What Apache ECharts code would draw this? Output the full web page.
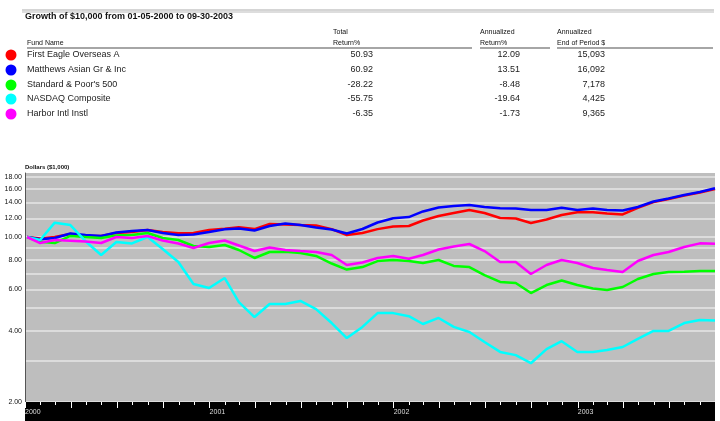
<!DOCTYPE html>
<html><head><meta charset="utf-8">
<script src="https://cdn.jsdelivr.net/npm/echarts@6/dist/echarts.min.js"></script>
<style>html,body{margin:0;padding:0;background:#fff}#c{width:720px;height:421px}</style>
</head><body><div id="c"></div>
<script>
// ---- data ----
const dates = ['2000-01-05',
  '2000-01-31','2000-02-29','2000-03-31','2000-04-30','2000-05-31','2000-06-30','2000-07-31','2000-08-31','2000-09-30','2000-10-31','2000-11-30','2000-12-31',
  '2001-01-31','2001-02-28','2001-03-31','2001-04-30','2001-05-31','2001-06-30','2001-07-31','2001-08-31','2001-09-30','2001-10-31','2001-11-30','2001-12-31',
  '2002-01-31','2002-02-28','2002-03-31','2002-04-30','2002-05-31','2002-06-30','2002-07-31','2002-08-31','2002-09-30','2002-10-31','2002-11-30','2002-12-31',
  '2003-01-31','2003-02-28','2003-03-31','2003-04-30','2003-05-31','2003-06-30','2003-07-31','2003-08-31','2003-09-30'];
const firstEagle = [10, 9.85,10.0,10.3,10.1,10.1,10.4,10.5,10.7,10.5,10.37,10.4,10.7,
  10.85,11.0,10.8,11.35,11.3,11.24,11.19,10.8,10.2,10.4,10.8,11.08,
  11.13,11.75,12.27,12.64,13.02,12.64,12.03,11.98,11.46,11.86,12.39,12.73,
  12.73,12.58,12.46,13.3,14.05,14.5,15.0,15.45,15.98];
const matthews = [10, 9.78,9.9,10.35,10.2,10.1,10.45,10.6,10.7,10.4,10.2,10.25,10.5,
  10.78,10.86,10.65,11.13,11.4,11.24,10.97,10.76,10.35,10.81,11.52,12.0,
  12.15,12.83,13.34,13.53,13.66,13.4,13.23,13.2,13.01,13.01,13.31,13.01,
  13.2,13.01,12.95,13.4,14.14,14.57,15.06,15.5,16.09];
const sp500 = [10, 9.55,9.43,10.1,10.0,9.9,10.15,10.2,10.4,9.9,9.71,9.16,9.07,
  9.25,8.81,8.15,8.64,8.66,8.55,8.31,7.72,7.28,7.46,7.91,7.99,
  7.91,7.76,7.99,7.54,7.46,6.9,6.45,6.38,5.79,6.26,6.54,6.26,
  6.05,5.96,6.14,6.64,6.97,7.11,7.13,7.18,7.18];
const nasdaq = [10, 9.71,11.5,11.24,9.6,8.39,9.52,9.39,10.0,8.89,7.83,6.32,6.08,
  6.70,5.30,4.58,5.20,5.20,5.36,4.95,4.32,3.73,4.16,4.76,4.76,
  4.62,4.28,4.54,4.16,3.96,3.59,3.26,3.16,2.92,3.35,3.62,3.26,
  3.26,3.32,3.42,3.70,4.0,4.0,4.32,4.45,4.43];
const harbor = [10, 9.43,9.71,9.65,9.57,9.43,10.0,9.9,10.1,9.66,9.39,8.98,9.43,
  9.66,9.2,8.72,9.03,8.81,8.72,8.64,8.39,7.61,7.8,8.15,8.31,
  8.09,8.39,8.85,9.11,9.34,8.72,7.83,7.83,6.97,7.61,7.99,7.76,
  7.39,7.25,7.11,7.91,8.39,8.64,9.07,9.4,9.37];

const fundNames = ['First Eagle Overseas A','Matthews Asian Gr & Inc','Standard & Poor\'s 500','NASDAQ Composite','Harbor Intl Instl'];
const totalReturn = ['50.93','60.92','-28.22','-55.75','-6.35'];
const annReturn = ['12.09','13.51','-8.48','-19.64','-1.73'];
const endValue = ['15,093','16,092','7,178','4,425','9,365'];
const colors = ['#ff0000','#0000ff','#00ff00','#00ffff','#ff00ff'];
const seriesData = [firstEagle, matthews, sp500, nasdaq, harbor];

const yGridValues = [2,3,4,5,6,7,8,9,10,12,14,16,18];
const yLabelValues = [2,4,6,8,10,12,14,16,18];

const titleText = 'Growth of $10,000 from 01-05-2000 to 09-30-2003';
const FONT = '"Liberation Sans", Arial, sans-serif';

// ---- chart ----
const chart = echarts.init(document.getElementById('c'), null, {renderer: 'canvas'});
const DAY = 86400000;

const rowY = [55, 70, 85, 99, 114];
const graphics = [];
graphics.push({type:'line', shape:{x1:22,y1:10,x2:714,y2:10}, style:{stroke:'#aaa',lineWidth:1}});
graphics.push({type:'line', shape:{x1:22,y1:12,x2:714,y2:12}, style:{stroke:'#bbb',lineWidth:1}});
graphics.push({type:'text', x:25, y:17, style:{text:titleText, font:'bold 9px '+FONT, fill:'#111', verticalAlign:'middle'}});
// headers
const hdr = (x,y,t)=>({type:'text', x, y, style:{text:t, font:'7px '+FONT, fill:'#111', verticalAlign:'middle'}});
graphics.push(hdr(27,43,'Fund Name'));
graphics.push(hdr(333,32,'Total'));
graphics.push(hdr(333,43,'Return%'));
graphics.push(hdr(480,32,'Annualized'));
graphics.push(hdr(480,43,'Return%'));
graphics.push(hdr(557,32,'Annualized'));
graphics.push(hdr(557,43,'End of Period $'));
[[27,472],[480,550],[557,713]].forEach(s=>{
  graphics.push({type:'line', shape:{x1:s[0],y1:48,x2:s[1],y2:48}, style:{stroke:'#888',lineWidth:1.5}});
});
fundNames.forEach((n,i)=>{
  graphics.push({type:'circle', shape:{cx:11, cy:rowY[i], r:5.5}, style:{fill:colors[i]}});
  graphics.push({type:'text', x:27, y:rowY[i], style:{text:n, font:'9px '+FONT, fill:'#222', verticalAlign:'middle'}});
  graphics.push({type:'text', x:373, y:rowY[i], style:{text:totalReturn[i], font:'9px '+FONT, fill:'#222', align:'right', verticalAlign:'middle'}});
  graphics.push({type:'text', x:520, y:rowY[i], style:{text:annReturn[i], font:'9px '+FONT, fill:'#222', align:'right', verticalAlign:'middle'}});
  graphics.push({type:'text', x:605, y:rowY[i], style:{text:endValue[i], font:'9px '+FONT, fill:'#222', align:'right', verticalAlign:'middle'}});
});

const xMin = '2000-01-01', xMax = '2003-09-30';

chart.setOption({
  animation: false,
  backgroundColor: '#fff',
  grid: {left: 25, right: 5, top: 173, bottom: 19, show: true, backgroundColor: '#bebebe', borderWidth: 0},
  xAxis: [
    { // main: monthly ticks + year labels
      type: 'time', position: 'bottom', min: xMin, max: xMax, z: 3,
      minInterval: 28*DAY, maxInterval: 31*DAY,
      axisLine: {show: false},
      axisTick: {show: true, length: 3, lineStyle: {color: '#fff', width: 1}},
      axisLabel: {show: true, color: '#ddd', fontSize: 7, fontFamily: FONT, align: 'left', margin: 7,
        hideOverlap: false, showMinLabel: true,
        formatter: function (v) { const d = new Date(v); return d.getMonth() === 0 ? String(d.getFullYear()) : ''; }},
      splitLine: {show: false}
    },
    { // quarterly longer ticks
      type: 'time', position: 'bottom', min: xMin, max: xMax, z: 3,
      minInterval: 89*DAY, maxInterval: 92*DAY,
      axisLine: {show: false},
      axisTick: {show: true, length: 6, lineStyle: {color: '#fff', width: 1}},
      axisLabel: {show: false},
      splitLine: {show: false}
    },
    { // black band
      type: 'time', position: 'bottom', min: xMin, max: xMax, z: 1, offset: 9.5,
      axisLine: {show: true, symbol: 'none', lineStyle: {color: '#000', width: 19, cap: 'butt'}},
      axisTick: {show: false}, axisLabel: {show: false}, splitLine: {show: false}
    }
  ],
  yAxis: {
    type: 'log', logBase: 10, min: 2, max: 18.67,
    name: 'Dollars ($1,000)', nameLocation: 'end', nameGap: 3,
    nameTextStyle: {fontSize: 6, fontFamily: FONT, color: '#111', align: 'left', verticalAlign: 'bottom', fontWeight: 'bold'},
    axisLine: {show: true, lineStyle: {color: '#555', width: 1}},
    axisTick: {show: false, customValues: yGridValues},
    axisLabel: {customValues: yLabelValues, color: '#111', fontSize: 7, fontFamily: FONT, margin: 3,
      formatter: v => Number(v).toFixed(2)},
    splitLine: {show: true, lineStyle: {color: '#e6e6e6', width: 1.5}}
  },
  series: fundNames.map((n, i) => ({
    name: n, type: 'line', xAxisIndex: 0, symbol: 'none', smooth: false,
    lineStyle: {color: colors[i], width: 2.5}, itemStyle: {color: colors[i]},
    data: dates.map((d, k) => [d, seriesData[i][k]])
  })),
  graphic: graphics
});
</script></body></html>
